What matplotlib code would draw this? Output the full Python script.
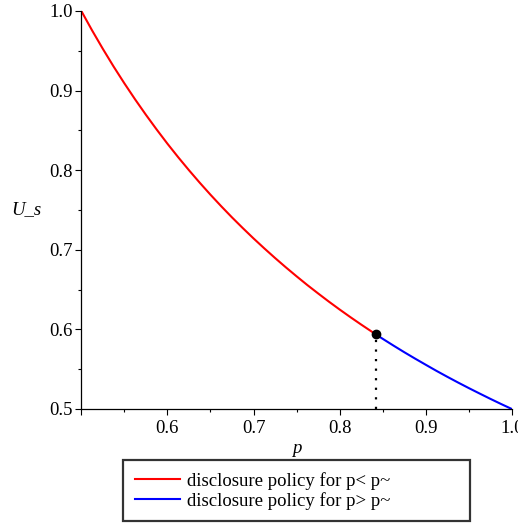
import matplotlib
matplotlib.use('Agg')
import matplotlib.pyplot as plt
from matplotlib.ticker import MultipleLocator

# values
p_low = [0.50, 0.5125, 0.525, 0.5375, 0.55, 0.5625, 0.575, 0.5875, 0.60, 0.6125,
         0.625, 0.6375, 0.65, 0.6625, 0.675, 0.6875, 0.70, 0.7125, 0.725, 0.7375,
         0.75, 0.7625, 0.775, 0.7875, 0.80, 0.8125, 0.825, 0.842]
u_low = [1.0000, 0.9756, 0.9524, 0.9302, 0.9091, 0.8889, 0.8696, 0.8511, 0.8333,
         0.8163, 0.8000, 0.7843, 0.7692, 0.7547, 0.7407, 0.7273, 0.7143, 0.7018,
         0.6897, 0.6780, 0.6667, 0.6557, 0.6452, 0.6349, 0.6250, 0.6154, 0.6061,
         0.5938]
p_high = [0.842, 0.85, 0.8625, 0.875, 0.8875, 0.90, 0.9125, 0.925, 0.9375, 0.95,
          0.9625, 0.975, 0.9875, 1.00]
u_high = [0.5938, 0.5882, 0.5797, 0.5714, 0.5634, 0.5556, 0.5479, 0.5405, 0.5333,
          0.5263, 0.5195, 0.5128, 0.5063, 0.5000]
p_tilde = 0.842
u_tilde = 0.5938

xticks = [0.5, 0.6, 0.7, 0.8, 0.9, 1.0]
xticklabels = ['', '0.6', '0.7', '0.8', '0.9', '1.0']
yticks = [0.5, 0.6, 0.7, 0.8, 0.9, 1.0]
yticklabels = ['0.5', '0.6', '0.7', '0.8', '0.9', '1.0']

plt.rcParams['font.family'] = ['Liberation Serif', 'DejaVu Serif']
plt.rcParams['font.size'] = 13.5

fig = plt.figure(figsize=(5.18, 5.23), dpi=100)
ax = fig.add_axes([0.157, 0.218, 0.831, 0.761])

ax.plot(p_low, u_low, color='#ff0000', lw=1.5, label='disclosure policy for p< p~')
ax.plot(p_high, u_high, color='#0000ff', lw=1.5, label='disclosure policy for p> p~')
ax.plot([p_tilde, p_tilde], [0.5, u_tilde], color='black', lw=1.6, ls=(0, (1, 3.3)))
ax.plot([p_tilde], [u_tilde], 'o', color='black', ms=6, zorder=5)

ax.set_xlim(0.5, 1.0)
ax.set_ylim(0.5, 1.0)
ax.set_xticks(xticks)
ax.set_xticklabels(xticklabels)
ax.set_yticks(yticks)
ax.set_yticklabels(yticklabels)
ax.xaxis.set_minor_locator(MultipleLocator(0.05))
ax.yaxis.set_minor_locator(MultipleLocator(0.05))
ax.tick_params(which='major', length=4, width=0.8, pad=2, direction='out')
ax.tick_params(which='minor', length=2.5, width=0.8, direction='out')
ax.tick_params(axis='x', pad=4)

ax.spines['top'].set_visible(False)
ax.spines['right'].set_visible(False)
for s in ['left', 'bottom']:
    ax.spines[s].set_linewidth(0.9)

ax.set_xlabel('p', style='italic', labelpad=2)
ax.set_ylabel('U_s', style='italic', rotation=0, va='center', ha='center')
ax.yaxis.set_label_coords(-0.128, 0.5)

leg = fig.legend(loc='lower left', bbox_to_anchor=(0.2375, 0.003, 0.670, 0.118),
                 mode='expand', frameon=True, fancybox=False, borderpad=0.62,
                 handlelength=2.4, handletextpad=0.4, labelspacing=0.12,
                 borderaxespad=0)
leg.get_frame().set_edgecolor('black')
leg.get_frame().set_linewidth(1.6)

fig.savefig('out.png', dpi=100)
